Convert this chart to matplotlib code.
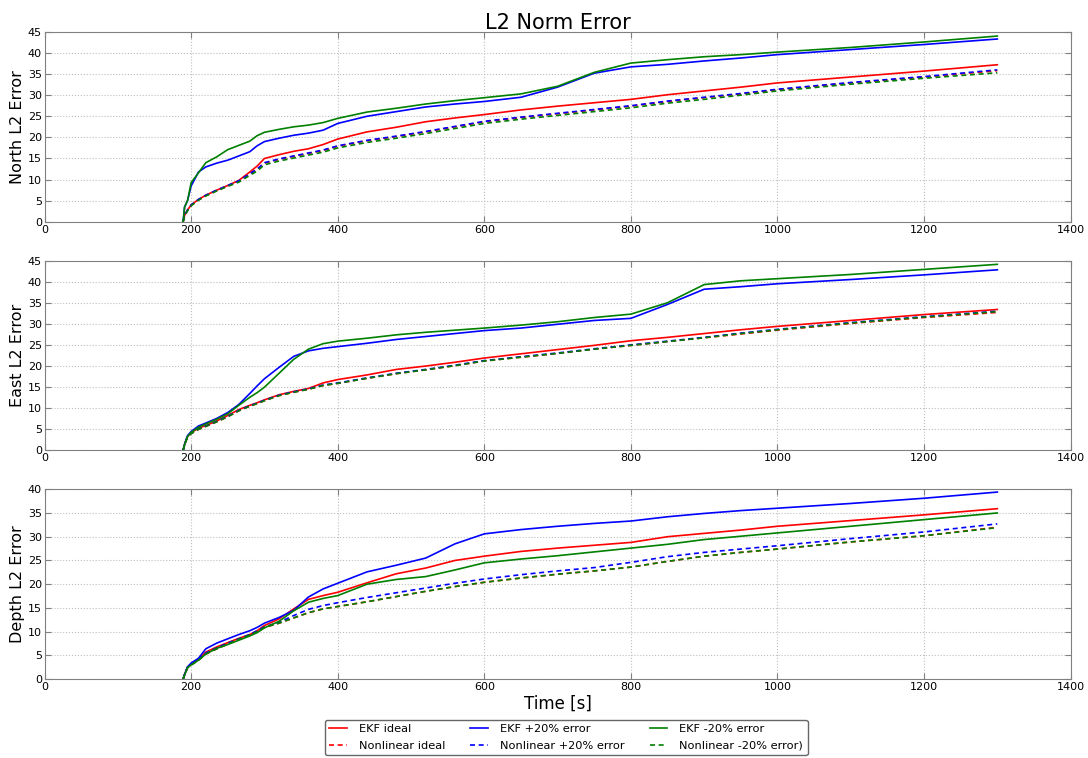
import numpy as np
import matplotlib.pyplot as plt

# time knots [s] shared by every series
t = [189, 191, 195, 200, 210, 220, 235, 250, 265, 280, 290, 300, 320, 340, 360, 380, 400,
     440, 480, 520, 560, 600, 650, 700, 750, 800, 850, 900, 950, 1000, 1100, 1200, 1300]

# North L2 error
north_ekf_ideal = [0, 1.5, 2.8, 4.0, 5.3, 6.3, 7.5, 8.6, 9.8, 11.8, 13.2, 15.0, 15.9, 16.7, 17.3, 18.3, 19.6,
                   21.3, 22.4, 23.7, 24.6, 25.4, 26.5, 27.4, 28.2, 29.0, 30.1, 31.0, 31.9, 32.9, 34.3, 35.7, 37.2]
north_nl_ideal = [0, 1.4, 2.7, 3.9, 5.2, 6.2, 7.4, 8.5, 9.6, 11.3, 12.4, 13.9, 14.8, 15.5, 16.2, 16.9, 17.9,
                  19.2, 20.2, 21.3, 22.5, 23.7, 24.7, 25.6, 26.5, 27.4, 28.5, 29.4, 30.3, 31.3, 32.9, 34.3, 35.8]
north_ekf_p20 = [0, 3.5, 5.0, 8.5, 11.8, 13.0, 13.9, 14.6, 15.6, 16.6, 18.0, 19.0, 19.8, 20.5, 21.0, 21.7, 23.3,
                 25.0, 26.1, 27.2, 27.9, 28.5, 29.5, 31.9, 35.2, 36.7, 37.3, 38.1, 38.8, 39.6, 40.8, 42.0, 43.3]
north_nl_p20 = [0, 1.5, 2.8, 4.0, 5.3, 6.3, 7.5, 8.6, 9.7, 11.4, 12.5, 14.0, 14.9, 15.6, 16.3, 17.0, 18.0,
                19.3, 20.3, 21.4, 22.6, 23.8, 24.8, 25.7, 26.6, 27.5, 28.6, 29.5, 30.4, 31.4, 33.0, 34.4, 36.0]
north_ekf_m20 = [0, 3.5, 5.0, 9.3, 11.6, 14.0, 15.4, 17.1, 18.1, 19.1, 20.4, 21.2, 21.9, 22.5, 22.9, 23.5, 24.5,
                 26.0, 26.9, 27.9, 28.7, 29.4, 30.3, 32.1, 35.4, 37.6, 38.4, 39.1, 39.6, 40.2, 41.3, 42.6, 44.0]
north_nl_m20 = [0, 1.3, 2.6, 3.8, 5.1, 6.1, 7.3, 8.4, 9.4, 11.0, 12.0, 13.5, 14.4, 15.1, 15.8, 16.5, 17.5,
                18.8, 19.8, 20.9, 22.1, 23.3, 24.3, 25.2, 26.1, 27.0, 28.1, 29.0, 30.0, 31.0, 32.6, 34.0, 35.3]

# East L2 error
east_ekf_ideal = [0, 1.4, 3.3, 4.2, 5.3, 5.9, 7.0, 8.3, 9.7, 10.7, 11.3, 12.0, 13.2, 14.0, 14.7, 16.0, 16.8,
                  17.9, 19.2, 20.0, 20.9, 21.9, 22.9, 23.9, 24.9, 26.0, 26.8, 27.7, 28.6, 29.4, 30.8, 32.2, 33.4]
east_nl_ideal = [0, 1.3, 3.2, 4.0, 5.0, 5.7, 6.8, 8.0, 9.4, 10.5, 11.1, 11.8, 13.0, 13.8, 14.5, 15.4, 15.9,
                 17.1, 18.2, 19.1, 20.1, 21.2, 22.1, 23.0, 24.0, 24.9, 25.8, 26.7, 27.6, 28.5, 30.1, 31.5, 32.7]
east_ekf_p20 = [0, 1.5, 3.5, 4.5, 5.8, 6.5, 7.6, 9.0, 10.9, 13.5, 15.3, 17.0, 19.7, 22.3, 23.6, 24.2, 24.6,
                25.4, 26.3, 27.0, 27.7, 28.4, 29.0, 29.9, 30.8, 31.3, 34.6, 38.2, 38.8, 39.5, 40.5, 41.6, 42.8]
east_nl_p20 = [0, 1.4, 3.3, 4.1, 5.1, 5.8, 6.9, 8.1, 9.5, 10.6, 11.2, 11.9, 13.1, 13.9, 14.6, 15.5, 16.0,
               17.2, 18.3, 19.2, 20.2, 21.3, 22.2, 23.1, 24.1, 25.0, 25.9, 26.8, 27.8, 28.7, 30.3, 31.7, 33.0]
east_ekf_m20 = [0, 1.4, 3.3, 4.3, 5.5, 6.3, 7.4, 8.7, 10.7, 12.6, 13.7, 15.0, 18.3, 21.6, 24.0, 25.3, 25.9,
                26.6, 27.4, 28.0, 28.5, 29.0, 29.7, 30.5, 31.5, 32.3, 35.0, 39.3, 40.2, 40.7, 41.7, 42.9, 44.1]
east_nl_m20 = [0, 1.3, 3.2, 4.0, 5.0, 5.7, 6.8, 8.0, 9.4, 10.5, 11.1, 11.8, 13.0, 13.8, 14.5, 15.4, 15.9,
               17.1, 18.2, 19.1, 20.1, 21.2, 22.1, 23.0, 24.0, 24.9, 25.8, 26.7, 27.7, 28.6, 30.2, 31.6, 32.9]

# Depth L2 error
depth_ekf_ideal = [0, 1.0, 2.5, 3.2, 4.2, 5.7, 6.8, 7.7, 8.6, 9.4, 10.2, 11.3, 12.7, 14.8, 16.8, 17.6, 18.3,
                   20.3, 22.2, 23.4, 25.0, 25.9, 26.9, 27.6, 28.2, 28.8, 30.0, 30.7, 31.4, 32.2, 33.4, 34.6, 35.9]
depth_nl_ideal = [0, 0.9, 2.4, 3.0, 4.0, 5.3, 6.4, 7.4, 8.4, 9.3, 10.0, 10.9, 11.8, 12.9, 14.0, 14.8, 15.3,
                  16.3, 17.4, 18.5, 19.5, 20.4, 21.3, 22.1, 22.8, 23.6, 24.8, 25.9, 26.7, 27.4, 28.9, 30.2, 32.0]
depth_ekf_p20 = [0, 1.0, 2.6, 3.4, 4.4, 6.4, 7.6, 8.5, 9.4, 10.2, 10.9, 11.8, 13.0, 14.5, 17.3, 19.0, 20.2,
                 22.6, 24.0, 25.5, 28.5, 30.6, 31.5, 32.2, 32.8, 33.3, 34.2, 34.9, 35.5, 36.0, 37.0, 38.1, 39.4]
depth_nl_p20 = [0, 1.0, 2.5, 3.2, 4.2, 5.5, 6.6, 7.6, 8.5, 9.4, 10.2, 11.0, 12.0, 13.4, 14.7, 15.5, 16.1,
                17.2, 18.2, 19.2, 20.2, 21.1, 22.0, 22.8, 23.5, 24.6, 25.8, 26.7, 27.4, 28.1, 29.6, 31.0, 32.7]
depth_ekf_m20 = [0, 0.9, 2.4, 3.0, 4.0, 5.3, 6.5, 7.3, 8.2, 9.1, 9.8, 10.8, 12.2, 14.4, 16.2, 17.0, 17.6,
                 20.0, 21.0, 21.6, 23.0, 24.5, 25.3, 26.0, 26.8, 27.6, 28.4, 29.4, 30.1, 30.8, 32.2, 33.6, 35.0]
depth_nl_m20 = [0, 0.9, 2.4, 3.0, 4.0, 5.3, 6.4, 7.4, 8.4, 9.3, 10.0, 10.9, 11.8, 12.9, 14.0, 14.8, 15.3,
                16.3, 17.4, 18.5, 19.5, 20.4, 21.3, 22.1, 22.8, 23.6, 24.8, 25.9, 26.7, 27.4, 28.9, 30.2, 31.9]

labels = ["EKF ideal", "Nonlinear ideal", "EKF +20% error", "Nonlinear +20% error",
          "EKF -20% error", "Nonlinear -20% error)"]
colors = ["r", "r", "b", "b", "g", "g"]
styles = ["-", (0, (3, 2.2)), "-", (0, (3, 2.2)), "-", (0, (3, 2.2))]

panels = [
    ("North L2 Error", 45, [north_ekf_ideal, north_nl_ideal, north_ekf_p20, north_nl_p20, north_ekf_m20, north_nl_m20]),
    ("East L2 Error", 45, [east_ekf_ideal, east_nl_ideal, east_ekf_p20, east_nl_p20, east_ekf_m20, east_nl_m20]),
    ("Depth L2 Error", 40, [depth_ekf_ideal, depth_nl_ideal, depth_ekf_p20, depth_nl_p20, depth_ekf_m20, depth_nl_m20]),
]

fig, axes = plt.subplots(3, 1, figsize=(10.88, 7.58), dpi=100)
fig.subplots_adjust(left=0.041, right=0.984, bottom=0.104, top=0.958, hspace=0.204)

for ax, (ylabel, ymax, series) in zip(axes, panels):
    lines = []
    for vals, c, ls, lab in zip(series, colors, styles, labels):
        ln, = ax.plot(t, vals, color=c, linestyle=ls, linewidth=1.2, label=lab)
        lines.append(ln)
    ax.set_xlim(0, 1400)
    ax.set_ylim(0, ymax)
    ax.set_yticks(np.arange(0, ymax + 1, 5))
    ax.grid(True, linestyle=":", color="0.75", linewidth=0.8)
    ax.set_ylabel(ylabel, fontsize=11.5, labelpad=2)
    ax.tick_params(direction="in", length=4, labelsize=8, pad=2, colors="0.5", labelcolor="black",
                   top=True, right=True)
    for sp in ax.spines.values():
        sp.set_color("0.5")

axes[0].set_title("L2 Norm Error", fontsize=15, pad=2)
axes[2].set_xlabel("Time [s]", fontsize=12, labelpad=2)

# legend sits under the bottom panel, running off the lower edge
fig.legend(lines, labels, ncol=3, loc="upper center", bbox_to_anchor=(0.5205, 0.058),
           fontsize=8.2, handlelength=1.5, handletextpad=1.1, columnspacing=2.2,
           borderpad=0.4, labelspacing=0.58, edgecolor="0.4", framealpha=1)

fig.savefig("out.png", dpi=100)
